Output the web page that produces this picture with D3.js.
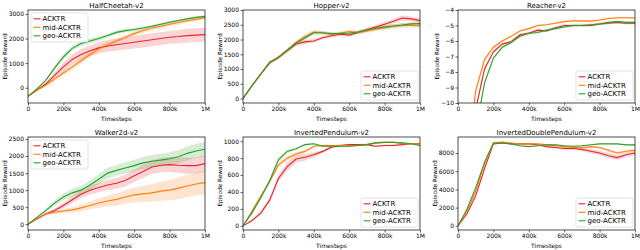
<!DOCTYPE html>
<html>
  <head>
    <script src="https://cdn.jsdelivr.net/npm/d3@7"></script>
    <style>
      body { margin: 0; background: #fff; }
      text { font-family: "DejaVu Sans", sans-serif; fill: #000; }
    </style>
  </head>
  <body>
    <svg width="640" height="250" id="mainsvg"></svg>
    <script>
        // timesteps shared by every run (every 50k)
        const steps = [0, 50e3, 100e3, 150e3, 200e3, 250e3, 300e3, 350e3, 400e3, 450e3, 500e3,
                       550e3, 600e3, 650e3, 700e3, 750e3, 800e3, 850e3, 900e3, 950e3, 1e6];
        const xTicks = [0, 2e5, 4e5, 6e5, 8e5, 1e6];
        const xTickLabels = ['0', '200k', '400k', '600k', '800k', '1M'];
        const methods = ['ACKTR', 'mid-ACKTR', 'geo-ACKTR'];
        const methodColors = ['#e8262a', '#ff7f0e', '#2ca02c'];
        const envNames = ['HalfCheetah-v2', 'Hopper-v2', 'Reacher-v2',
                          'Walker2d-v2', 'InvertedPendulum-v2', 'InvertedDoublePendulum-v2'];

        // HalfCheetah
        const cheetahAcktr = [-350, -100, 150, 500, 850, 1150, 1350, 1500, 1620, 1700, 1750, 1800, 1850, 1900, 1950, 2000, 2050, 2080, 2120, 2140, 2160];
        const cheetahAcktrStd = [0, 20, 60, 120, 180, 200, 220, 220, 230, 240, 250, 250, 250, 260, 260, 260, 260, 270, 280, 280, 280];
        const cheetahMid = [-350, -100, 100, 350, 600, 850, 1100, 1350, 1580, 1750, 1900, 2050, 2200, 2330, 2430, 2500, 2580, 2650, 2720, 2780, 2850];
        const cheetahMidStd = [0, 20, 50, 80, 100, 120, 120, 120, 110, 100, 100, 100, 100, 100, 100, 90, 90, 90, 80, 80, 80];
        const cheetahGeo = [-350, -50, 300, 800, 1250, 1600, 1800, 1900, 2000, 2120, 2250, 2320, 2370, 2430, 2500, 2580, 2660, 2730, 2800, 2860, 2900];
        const cheetahGeoStd = [0, 20, 40, 80, 100, 100, 100, 100, 90, 80, 80, 70, 70, 60, 60, 60, 60, 50, 50, 50, 50];

        // Hopper
        const hopperAcktr = [0, 430, 830, 1230, 1390, 1620, 1850, 1920, 1950, 2060, 2130, 2180, 2150, 2240, 2330, 2420, 2520, 2620, 2730, 2700, 2640];
        const hopperAcktrStd = [0, 20, 30, 40, 50, 60, 70, 70, 60, 60, 60, 60, 60, 60, 70, 70, 80, 80, 90, 80, 80];
        const hopperMid = [0, 430, 830, 1200, 1390, 1640, 1900, 2100, 2250, 2230, 2170, 2220, 2270, 2240, 2290, 2350, 2400, 2450, 2480, 2480, 2470];
        const hopperMidStd = [0, 20, 30, 40, 50, 60, 70, 80, 80, 70, 60, 60, 60, 60, 70, 70, 80, 80, 80, 80, 80];
        const hopperGeo = [0, 430, 830, 1200, 1390, 1640, 1880, 2050, 2230, 2230, 2200, 2200, 2220, 2250, 2320, 2380, 2420, 2460, 2490, 2530, 2540];
        const hopperGeoStd = [0, 20, 30, 40, 50, 60, 60, 60, 50, 50, 50, 50, 50, 50, 60, 60, 60, 60, 60, 60, 60];

        // Reacher
        const reacherAcktr = [-30, -16, -10.4, -7.8, -6.7, -6.2, -6.05, -5.6, -5.5, -5.3, -5.35, -5.15, -5.0, -5.0, -5.0, -5.0, -4.9, -4.85, -4.8, -4.85, -4.85];
        const reacherAcktrStd = [0, 0.3, 0.2, 0.15, 0.1, 0.08, 0.08, 0.08, 0.08, 0.08, 0.08, 0.08, 0.08, 0.08, 0.08, 0.08, 0.08, 0.08, 0.08, 0.08, 0.08];
        const reacherMid = [-30, -14, -9.2, -7.2, -6.4, -6.0, -5.7, -5.35, -5.2, -5.0, -4.95, -4.85, -4.75, -4.7, -4.7, -4.72, -4.65, -4.55, -4.5, -4.5, -4.52];
        const reacherMidStd = [0, 0.3, 0.2, 0.1, 0.08, 0.06, 0.06, 0.06, 0.06, 0.06, 0.06, 0.06, 0.06, 0.06, 0.06, 0.06, 0.06, 0.06, 0.06, 0.06, 0.06];
        const reacherGeo = [-30, -18, -11.8, -8.7, -7.1, -6.4, -6.1, -5.7, -5.5, -5.45, -5.3, -5.2, -5.1, -5.0, -5.0, -4.95, -4.9, -4.8, -4.75, -4.8, -4.8];
        const reacherGeoStd = [0, 0.3, 0.2, 0.15, 0.1, 0.08, 0.08, 0.08, 0.08, 0.08, 0.08, 0.08, 0.08, 0.08, 0.08, 0.08, 0.08, 0.08, 0.08, 0.08, 0.08];

        // Walker2d
        const walkerAcktr = [0, 150, 300, 400, 550, 720, 880, 1000, 1080, 1150, 1200, 1280, 1420, 1550, 1680, 1730, 1750, 1730, 1720, 1720, 1780];
        const walkerAcktrStd = [0, 20, 40, 60, 80, 100, 120, 130, 140, 150, 160, 170, 180, 190, 200, 210, 220, 230, 240, 240, 250];
        const walkerMid = [0, 170, 300, 350, 390, 420, 480, 550, 620, 680, 730, 800, 860, 890, 920, 970, 1000, 1060, 1120, 1180, 1220];
        const walkerMidStd = [0, 20, 30, 40, 60, 80, 100, 120, 140, 160, 180, 200, 220, 240, 260, 280, 300, 320, 330, 340, 350];
        const walkerGeo = [0, 200, 400, 620, 800, 920, 1000, 1150, 1320, 1500, 1580, 1650, 1720, 1800, 1850, 1880, 1920, 1980, 2080, 2150, 2200];
        const walkerGeoStd = [0, 20, 50, 80, 100, 120, 130, 140, 150, 160, 160, 170, 170, 180, 180, 190, 190, 200, 200, 210, 210];

        // InvertedPendulum
        const pendAcktr = [0, 60, 150, 300, 560, 700, 790, 810, 840, 880, 930, 950, 960, 960, 960, 940, 950, 950, 960, 970, 970];
        const pendAcktrStd = [0, 10, 20, 30, 40, 50, 45, 40, 30, 20, 15, 10, 10, 10, 10, 10, 10, 10, 10, 10, 10];
        const pendMid = [0, 170, 350, 520, 720, 800, 850, 880, 940, 950, 950, 950, 950, 950, 960, 980, 990, 990, 970, 970, 970];
        const pendMidStd = [0, 10, 20, 25, 30, 30, 25, 20, 15, 10, 10, 10, 10, 10, 10, 10, 10, 10, 10, 10, 10];
        const pendGeo = [0, 150, 330, 530, 780, 880, 910, 960, 970, 940, 940, 940, 940, 950, 960, 980, 985, 985, 980, 970, 950];
        const pendGeoStd = [0, 10, 20, 25, 25, 20, 15, 10, 10, 10, 10, 10, 10, 10, 10, 10, 10, 10, 10, 10, 10];

        // InvertedDoublePendulum
        const dblAcktr = [0, 1300, 3300, 6300, 9000, 9100, 9000, 9000, 9000, 8900, 8700, 8600, 8500, 8500, 8400, 8200, 8000, 7700, 7500, 7800, 8000];
        const dblAcktrStd = [0, 50, 80, 100, 80, 60, 60, 60, 80, 100, 120, 140, 150, 170, 200, 230, 250, 270, 280, 260, 240];
        const dblMid = [0, 1600, 3800, 6800, 9100, 9200, 9100, 9000, 9000, 9000, 8900, 8800, 8700, 8600, 8600, 8700, 8600, 8300, 8000, 8200, 8300];
        const dblMidStd = [0, 50, 80, 100, 80, 60, 60, 60, 60, 70, 80, 90, 100, 110, 120, 130, 140, 150, 150, 140, 130];
        const dblGeo = [0, 1800, 4200, 7000, 9100, 9100, 9000, 8800, 8700, 8800, 8900, 8900, 8800, 8750, 8800, 8900, 9000, 9000, 9000, 8900, 8900];
        const dblGeoStd = [0, 50, 80, 100, 60, 50, 50, 50, 50, 50, 50, 50, 50, 50, 50, 50, 50, 50, 50, 50, 50];

        // axis settings per panel
        const panels = [
            {title: envNames[0], runs: [[cheetahAcktr, cheetahAcktrStd], [cheetahMid, cheetahMidStd], [cheetahGeo, cheetahGeoStd]],
             yDomain: [-620, 3160], yTicks: [0, 1000, 2000, 3000], legend: 'ul'},
            {title: envNames[1], runs: [[hopperAcktr, hopperAcktrStd], [hopperMid, hopperMidStd], [hopperGeo, hopperGeoStd]],
             yDomain: [-150, 3000], yTicks: [0, 500, 1000, 1500, 2000, 2500, 3000], legend: 'lr'},
            {title: envNames[2], runs: [[reacherAcktr, reacherAcktrStd], [reacherMid, reacherMidStd], [reacherGeo, reacherGeoStd]],
             yDomain: [-10, -4], yTicks: [-10, -9, -8, -7, -6, -5, -4], legend: 'lr'},
            {title: envNames[3], runs: [[walkerAcktr, walkerAcktrStd], [walkerMid, walkerMidStd], [walkerGeo, walkerGeoStd]],
             yDomain: [-170, 2560], yTicks: [0, 500, 1000, 1500, 2000, 2500], legend: 'ul'},
            {title: envNames[4], runs: [[pendAcktr, pendAcktrStd], [pendMid, pendMidStd], [pendGeo, pendGeoStd]],
             yDomain: [-50, 1050], yTicks: [0, 200, 400, 600, 800, 1000], legend: 'lr'},
            {title: envNames[5], runs: [[dblAcktr, dblAcktrStd], [dblMid, dblMidStd], [dblGeo, dblGeoStd]],
             yDomain: [-460, 9760], yTicks: [0, 2000, 4000, 6000, 8000], legend: 'lr'}
        ];

        const svg = d3.select('#mainsvg');
        const colLeft = [28, 243, 458];
        const rowTop = [10, 137];
        const innerWidth = 177;
        const innerHeight = 93;
        const yFmt = d => (d < 0 ? '\u2212' + (-d) : String(d));

        panels.forEach((p, i) => {
            const left = colLeft[i % 3];
            const top = rowTop[Math.floor(i / 3)];
            const g = svg.append('g').attr('transform', `translate(${left}, ${top})`);

            const xScale = d3.scaleLinear().domain([0, 1e6]).range([0, innerWidth]);
            const yScale = d3.scaleLinear().domain(p.yDomain).range([innerHeight, 0]);

            g.append('clipPath').attr('id', 'clip' + i)
              .append('rect').attr('width', innerWidth).attr('height', innerHeight);
            const plot = g.append('g').attr('clip-path', `url(#clip${i})`);

            const area = d3.area()
              .x((d, j) => xScale(steps[j]))
              .y0(d => yScale(d[0] - d[1]))
              .y1(d => yScale(d[0] + d[1]));
            const line = d3.line()
              .x((d, j) => xScale(steps[j]))
              .y(d => yScale(d));

            p.runs.forEach((run, k) => {
                const pairs = run[0].map((v, j) => [v, run[1][j]]);
                plot.append('path').attr('d', area(pairs))
                  .attr('fill', methodColors[k]).attr('fill-opacity', 0.2);
            });
            p.runs.forEach((run, k) => {
                plot.append('path').attr('d', line(run[0]))
                  .attr('fill', 'none').attr('stroke', methodColors[k])
                  .attr('stroke-width', 1.1);
            });

            // axes
            const xAxis = d3.axisBottom(xScale).tickValues(xTicks)
              .tickFormat((d, j) => xTickLabels[j]).tickSize(2.5).tickPadding(1.5);
            const yAxis = d3.axisLeft(yScale).tickValues(p.yTicks)
              .tickFormat(yFmt).tickSize(2.5).tickPadding(1.5);
            const xg = g.append('g').attr('transform', `translate(0, ${innerHeight})`).call(xAxis);
            const yg = g.append('g').call(yAxis);
            [xg, yg].forEach(a => {
                a.attr('font-size', 6).attr('font-family', '"DejaVu Sans", sans-serif');
                a.select('.domain').remove();
                a.selectAll('.tick line').attr('stroke', '#000').attr('stroke-width', 0.6);
            });

            g.append('rect').attr('width', innerWidth).attr('height', innerHeight)
              .attr('fill', 'none').attr('stroke', '#000').attr('stroke-width', 0.7);

            // labels
            g.append('text').attr('x', innerWidth / 2).attr('y', -2.5)
              .attr('text-anchor', 'middle').attr('font-size', 7).text(p.title);
            g.append('text').attr('x', innerWidth / 2).attr('y', innerHeight + 18)
              .attr('text-anchor', 'middle').attr('font-size', 6).text('Timesteps');
            const yw = d3.max(yg.selectAll('.tick text').nodes(), n => n.getComputedTextLength());
            g.append('text').attr('transform', 'rotate(-90)')
              .attr('x', -innerHeight / 2).attr('y', -yw - 6)
              .attr('text-anchor', 'middle').attr('font-size', 5.8).text('Episode Reward');

            // legend
            const lw = 57, lh = 29;
            const lx = p.legend === 'ul' ? 3 : innerWidth - lw - 2;
            const ly = p.legend === 'ul' ? 3 : innerHeight - lh - 3;
            const lg = g.append('g').attr('transform', `translate(${lx}, ${ly})`);
            lg.append('rect').attr('width', lw).attr('height', lh).attr('rx', 1.5)
              .attr('fill', '#fff').attr('fill-opacity', 0.85)
              .attr('stroke', '#d0d0d0').attr('stroke-width', 0.6);
            methods.forEach((m, k) => {
                const yy = 5.8 + k * 8.5;
                lg.append('line').attr('x1', 2.5).attr('x2', 9.5).attr('y1', yy).attr('y2', yy)
                  .attr('stroke', methodColors[k]).attr('stroke-width', 1.1);
                lg.append('text').attr('x', 11.5).attr('y', yy + 2.4).attr('font-size', 7).text(m);
            });
        });
    </script>
  </body>
</html>
